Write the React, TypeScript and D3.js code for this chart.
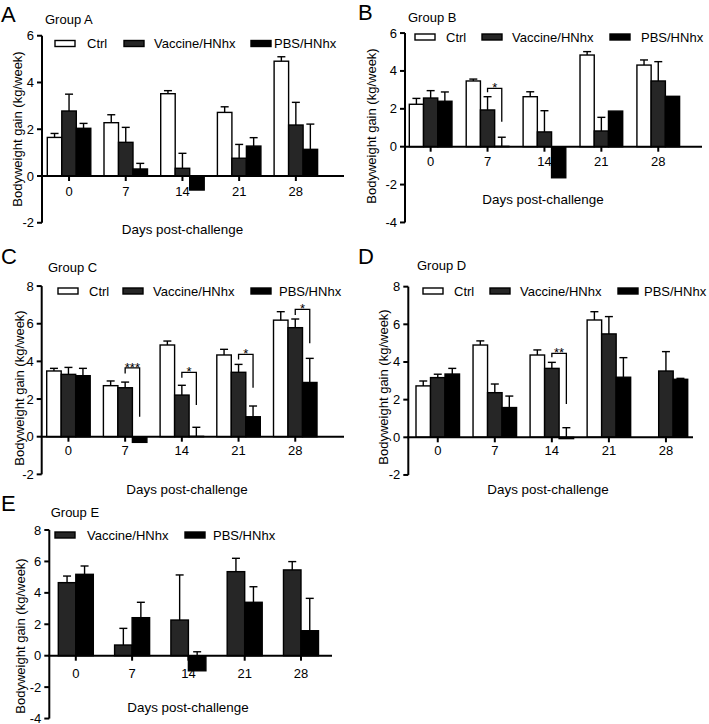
import React from "react";
import * as d3 from "d3";

// ---------- DATA ----------
const days = ["0", "7", "14", "21", "28"];
const seriesNames = ["Ctrl", "Vaccine/HNhx", "PBS/HNhx"];

const ctrlA = [1.65, 2.28, 3.52, 2.72, 4.91];
const ctrlAErr = [0.17, 0.34, 0.13, 0.24, 0.19];
const vacA = [2.78, 1.44, 0.33, 0.76, 2.18];
const vacAErr = [0.72, 0.64, 0.64, 0.59, 0.97];
const pbsA = [2.04, 0.3, -0.6, 1.28, 1.14];
const pbsAErr = [0.21, 0.24, 0, 0.36, 1.08];

const ctrlB = [2.24, 3.47, 2.64, 4.84, 4.31];
const ctrlBErr = [0.31, 0.1, 0.26, 0.18, 0.27];
const vacB = [2.57, 1.94, 0.78, 0.83, 3.47];
const vacBErr = [0.39, 0.7, 1.12, 0.72, 1.02];
const pbsB = [2.4, 0.02, -1.64, 1.88, 2.66];
const pbsBErr = [0.49, 0.48, 0, 0, 0];

const ctrlC = [3.49, 2.71, 4.87, 4.34, 6.19];
const ctrlCErr = [0.14, 0.25, 0.21, 0.3, 0.45];
const vacC = [3.31, 2.6, 2.21, 3.42, 5.79];
const vacCErr = [0.37, 0.3, 0.52, 0.42, 0.46];
const pbsC = [3.24, -0.3, 0.02, 1.06, 2.88];
const pbsCErr = [0.39, 0, 0.48, 0.57, 1.28];

const ctrlD = [2.73, 4.9, 4.37, 6.23, null];
const ctrlDErr = [0.26, 0.22, 0.27, 0.44, 0];
const vacD = [3.17, 2.37, 3.66, 5.49, 3.52];
const vacDErr = [0.18, 0.46, 0.32, 0.92, 1.03];
const pbsD = [3.36, 1.58, -0.07, 3.19, 3.08];
const pbsDErr = [0.3, 0.61, 0.58, 1.04, 0.05];

const vacE = [4.65, 0.68, 2.27, 5.35, 5.46];
const vacEErr = [0.42, 1.06, 2.87, 0.85, 0.53];
const pbsE = [5.18, 2.42, -0.96, 3.4, 1.59];
const pbsEErr = [0.53, 0.98, 1.21, 0.99, 2.06];

// significance brackets: [day index, top, left leg end, right leg end, label]
const sigB = [[1, 3.08, 2.87, 1.32, "*"]];
const sigC = [
  [1, 3.66, 3.36, 1.06, "***"],
  [2, 3.42, 3.13, 1.68, "*"],
  [3, 4.37, 4.1, 2.6, "*"],
  [4, 6.76, 6.46, 4.96, "*"],
];
const sigD = [[2, 4.46, 4.25, 1.77, "**"]];
const sigA: any[] = [];
const sigE: any[] = [];

const yTicksA = [-2, 0, 2, 4, 6];
const yTicksB = [-4, -2, 0, 2, 4, 6];
const yTicksC = [-2, 0, 2, 4, 6, 8];
const yTicksD = [-2, 0, 2, 4, 6, 8];
const yTicksE = [-4, -2, 0, 2, 4, 6, 8];

// ---------- STYLE ----------
const FONT = "'Liberation Sans', Arial, Helvetica, sans-serif";
const TXT = "#000";
const STYLE: Record<string, { fill: string }> = {
  Ctrl: { fill: "#ffffff" },
  "Vaccine/HNhx": { fill: "#262626" },
  "PBS/HNhx": { fill: "#000000" },
};

type Series = { name: string; values: (number | null)[]; errs: number[] };

const panels = [
  {
    letter: "A", letterX: 1, letterY: 22,
    title: "Group A", titleX: 45, titleY: 19,
    axisX: 42, axisEnd: 344, zeroY: 176, unit: 23.38, yMin: -2, yMax: 6, yTicks: yTicksA,
    bandStart: 47.3, bandEnd: 317.6, padInner: 0.233,
    series: [
      { name: seriesNames[0], values: ctrlA, errs: ctrlAErr },
      { name: seriesNames[1], values: vacA, errs: vacAErr },
      { name: seriesNames[2], values: pbsA, errs: pbsAErr },
    ],
    legendY: 43.5, legend: [[55, 87], [124, 154], [251, 274]],
    yLabelX: 17, yLabelY: 129, xTitleX: 182.5, xTitleY: 233.5, tickDy: 19.5,
    sig: sigA,
  },
  {
    letter: "B", letterX: 358, letterY: 20,
    title: "Group B", titleX: 408, titleY: 17,
    axisX: 405, axisEnd: 702, zeroY: 146.7, unit: 18.94, yMin: -4, yMax: 6, yTicks: yTicksB,
    bandStart: 409.3, bandEnd: 679.6, padInner: 0.25,
    series: [
      { name: seriesNames[0], values: ctrlB, errs: ctrlBErr },
      { name: seriesNames[1], values: vacB, errs: vacBErr },
      { name: seriesNames[2], values: pbsB, errs: pbsBErr },
    ],
    legendY: 37, legend: [[415, 446], [482, 512], [610, 641]],
    yLabelX: 371, yLabelY: 126, xTitleX: 543, xTitleY: 204, tickDy: 19,
    sig: sigB,
  },
  {
    letter: "C", letterX: 1, letterY: 264,
    title: "Group C", titleX: 48, titleY: 267,
    axisX: 41.7, axisEnd: 344, zeroY: 436.7, unit: 18.83, yMin: -2, yMax: 8, yTicks: yTicksC,
    bandStart: 46.7, bandEnd: 317, padInner: 0.233,
    series: [
      { name: seriesNames[0], values: ctrlC, errs: ctrlCErr },
      { name: seriesNames[1], values: vacC, errs: vacCErr },
      { name: seriesNames[2], values: pbsC, errs: pbsCErr },
    ],
    legendY: 291, legend: [[58, 89], [123, 153], [251, 279]],
    yLabelX: 19, yLabelY: 388, xTitleX: 187, xTitleY: 494, tickDy: 18.5,
    sig: sigC,
  },
  {
    letter: "D", letterX: 358, letterY: 264,
    title: "Group D", titleX: 417, titleY: 265,
    axisX: 408.3, axisEnd: 693, zeroY: 437.3, unit: 18.83, yMin: -2, yMax: 8, yTicks: yTicksD,
    bandStart: 416, bandEnd: 687.7, padInner: 0.237,
    series: [
      { name: seriesNames[0], values: ctrlD, errs: ctrlDErr },
      { name: seriesNames[1], values: vacD, errs: vacDErr },
      { name: seriesNames[2], values: pbsD, errs: pbsDErr },
    ],
    legendY: 291, legend: [[423, 454], [490, 520], [618, 644]],
    yLabelX: 383, yLabelY: 387, xTitleX: 548, xTitleY: 494, tickDy: 18,
    sig: sigD,
  },
  {
    letter: "E", letterX: 1, letterY: 511,
    title: "Group E", titleX: 50.7, titleY: 512,
    axisX: 49.3, axisEnd: 332, zeroY: 655.7, unit: 15.71, yMin: -4, yMax: 8, yTicks: yTicksE,
    bandStart: 58.3, bandEnd: 318.5, padInner: 0.378,
    series: [
      { name: seriesNames[1], values: vacE, errs: vacEErr },
      { name: seriesNames[2], values: pbsE, errs: pbsEErr },
    ],
    legendY: 535, legend: [[55, 87], [185, 213]],
    yLabelX: 20, yLabelY: 636, xTitleX: 188, xTitleY: 712, tickDy: 22,
    sig: sigE,
  },
];

function Panel({ p }: { p: any }) {
  const y = d3
    .scaleLinear()
    .domain([p.yMin, p.yMax])
    .range([p.zeroY - p.yMin * p.unit, p.zeroY - p.yMax * p.unit]);
  const x = d3.scaleBand<string>().domain(days).range([p.bandStart, p.bandEnd]).paddingInner(p.padInner).paddingOuter(0);
  const inner = d3
    .scaleBand<string>()
    .domain(p.series.map((s: Series) => s.name))
    .range([0, x.bandwidth()])
    .padding(0);
  const bw = inner.bandwidth();
  const zero = y(0);
  const capW = 8;
  const vacName = seriesNames[1];
  const pbsName = seriesNames[2];

  return (
    <g fontFamily={FONT} fill={TXT}>
      <text x={p.letterX} y={p.letterY} fontSize={22}>{p.letter}</text>
      <text x={p.titleX} y={p.titleY} fontSize={13} dominantBaseline="central">{p.title}</text>

      {/* bars */}
      {p.series.map((s: Series) =>
        s.values.map((v, i) => {
          if (v === null) return null;
          const x0 = (x(days[i]) as number) + (inner(s.name) as number);
          const top = Math.min(y(v), zero);
          const h = Math.abs(y(v) - zero);
          const cx = x0 + bw / 2;
          const e = s.errs[i];
          return (
            <g key={s.name + i}>
              <rect x={x0} y={top} width={bw} height={h} fill={STYLE[s.name].fill} stroke="#000" strokeWidth={1.4} />
              {e > 0 && (
                <g stroke="#000" strokeWidth={1.4}>
                  <line x1={cx} x2={cx} y1={y(v)} y2={y(v + e)} />
                  <line x1={cx - capW / 2} x2={cx + capW / 2} y1={y(v + e)} y2={y(v + e)} />
                </g>
              )}
            </g>
          );
        })
      )}

      {/* significance brackets */}
      {p.sig.map((b: any, k: number) => {
        const [di, topV, lV, rV, lab] = b;
        const xl = (x(days[di]) as number) + (inner(vacName) as number) + bw / 2;
        const xr = (x(days[di]) as number) + (inner(pbsName) as number) + bw / 2;
        const path = d3.path();
        path.moveTo(xl, y(lV));
        path.lineTo(xl, y(topV));
        path.lineTo(xr, y(topV));
        path.lineTo(xr, y(rV));
        return (
          <g key={"sig" + k}>
            <path d={path.toString()} fill="none" stroke="#000" strokeWidth={1.3} />
            <text x={(xl + xr) / 2} y={y(topV) + 4} fontSize={13} textAnchor="middle">{lab}</text>
          </g>
        );
      })}

      {/* y axis */}
      <line x1={p.axisX} x2={p.axisX} y1={y(p.yMax)} y2={y(p.yMin)} stroke="#000" strokeWidth={2} />
      {p.yTicks.map((t: number) => (
        <g key={"yt" + t}>
          <line x1={p.axisX - 5} x2={p.axisX} y1={y(t)} y2={y(t)} stroke="#000" strokeWidth={2} />
          <text x={p.axisX - 8} y={y(t)} fontSize={13} textAnchor="end" dominantBaseline="central">{t}</text>
        </g>
      ))}

      {/* x axis */}
      <line x1={p.axisX - 1} x2={p.axisEnd} y1={zero} y2={zero} stroke="#000" strokeWidth={2} />
      {days.map((d) => {
        const cx = (x(d) as number) + x.bandwidth() / 2;
        return (
          <g key={"xt" + d}>
            <line x1={cx} x2={cx} y1={zero} y2={zero + 5} stroke="#000" strokeWidth={2} />
            <text x={cx} y={zero + p.tickDy} fontSize={13} textAnchor="middle">{d}</text>
          </g>
        );
      })}

      {/* axis titles */}
      <text x={p.xTitleX} y={p.xTitleY} fontSize={13.4} textAnchor="middle">Days post-challenge</text>
      <text
        transform={`translate(${p.yLabelX},${p.yLabelY}) rotate(-90)`}
        fontSize={13}
        textAnchor="middle"
        dominantBaseline="central"
      >
        Bodyweight gain (kg/week)
      </text>

      {/* legend */}
      {p.series.map((s: Series, k: number) => (
        <g key={"lg" + s.name}>
          <rect x={p.legend[k][0]} y={p.legendY - 3} width={20} height={6} fill={STYLE[s.name].fill} stroke="#000" strokeWidth={1.4} />
          <text x={p.legend[k][1]} y={p.legendY} fontSize={13} dominantBaseline="central">{s.name}</text>
        </g>
      ))}
    </g>
  );
}

export default function App() {
  return (
    <svg
      width={709}
      height={724}
      viewBox="0 0 709 724"
      style={{ position: "absolute", left: 0, top: 0, background: "#fff" }}
    >
      <rect width={709} height={724} fill="#fff" />
      {panels.map((p) => (
        <Panel key={p.letter} p={p} />
      ))}
    </svg>
  );
}
